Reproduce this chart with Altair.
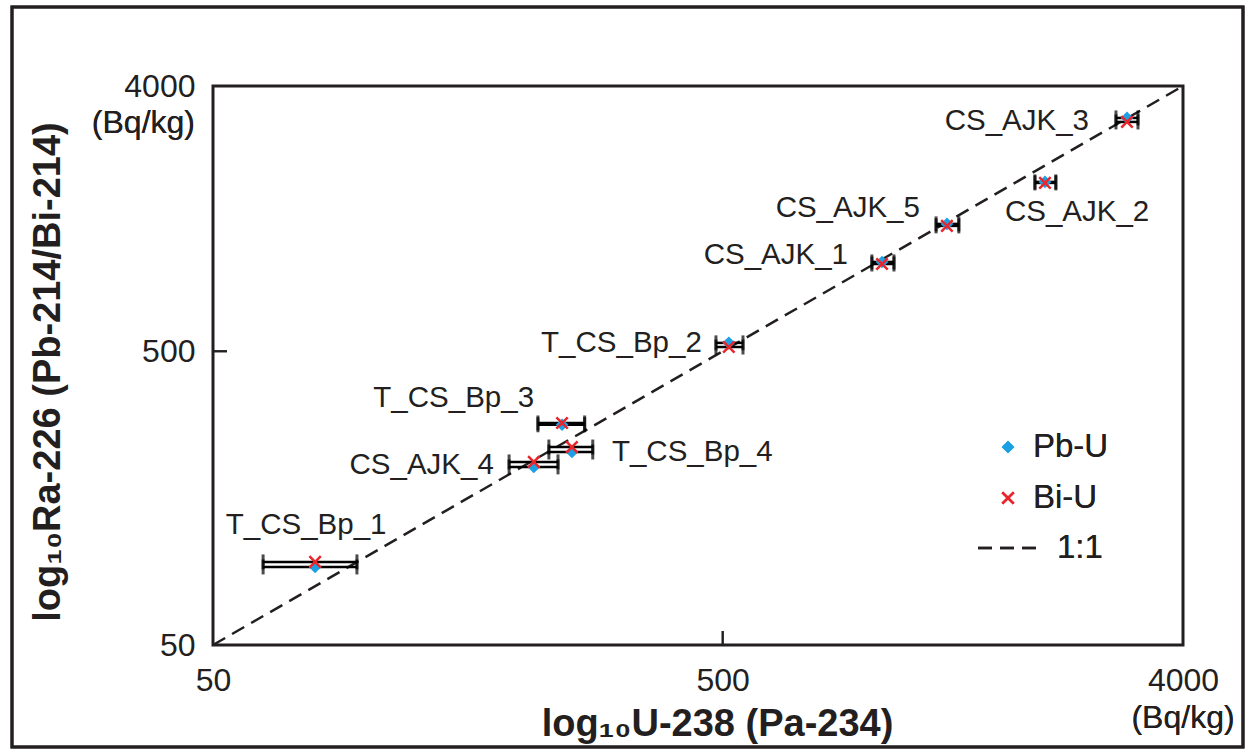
import altair as alt
import pandas as pd

# ---- sample activities (Bq/kg) ----
samples = ["T_CS_Bp_1", "CS_AJK_4", "T_CS_Bp_3", "T_CS_Bp_4", "T_CS_Bp_2",
           "CS_AJK_1", "CS_AJK_5", "CS_AJK_2", "CS_AJK_3"]
u238 = [79.3, 213, 242, 253, 514, 1027, 1377, 2144, 3106]
u238_lo = [62.7, 190.5, 217, 228, 485, 981, 1311, 2049, 2955]
u238_hi = [95.8, 237.6, 268, 278, 548, 1084, 1453, 2252, 3264]
ra_pb = [92.2, 202, 281, 227, 534, 1007, 1357, 1886, 3114]
ra_bi = [95.9, 210, 285, 236, 517, 991, 1336, 1871, 3018]

one_to_one = [50, 4000]
tick_values = [50, 500, 4000]

# ---- label placement next to each sample (align, dx, dy) ----
label_place = {
    "T_CS_Bp_1": ("center", -9, -42),
    "CS_AJK_4": ("right", -40, -2),
    "T_CS_Bp_3": ("right", -28, -27),
    "T_CS_Bp_4": ("left", 40, 0),
    "T_CS_Bp_2": ("right", -27, 0),
    "CS_AJK_1": ("right", -34, -7),
    "CS_AJK_5": ("right", -27, -16),
    "CS_AJK_2": ("left", -40, 30),
    "CS_AJK_3": ("right", -38, 3),
}

W, H = 970, 559
FONT = "Liberation Sans"
INK = "#231f20"
BLUE = "#1ca0e4"
RED = "#e8262b"

rows = []
for s, x, lo, hi, pb, bi in zip(samples, u238, u238_lo, u238_hi, ra_pb, ra_bi):
    rows.append({"sample": s, "series": "Pb-U", "x": x, "lo": lo, "hi": hi, "y": pb})
    rows.append({"sample": s, "series": "Bi-U", "x": x, "lo": lo, "hi": hi, "y": bi})
df = pd.DataFrame(rows)
pb_df = df[df.series == "Pb-U"]
bi_df = df[df.series == "Bi-U"]
line_df = pd.DataFrame({"x": one_to_one, "y": one_to_one})

xs = alt.Scale(type="log", domain=[50, 4000], nice=False)
ys = alt.Scale(type="log", domain=[50, 4000], nice=False)

x_axis = alt.Axis(values=tick_values, format="d", title="log₁₀U-238 (Pa-234)",
                  grid=False, ticks=False, tickSize=0, domain=False,
                  labelFlush=False, labelPadding=20, labelFontSize=32,
                  labelFont=FONT, labelColor=INK,
                  titleFont=FONT, titleFontSize=38, titleFontWeight="bold",
                  titleColor=INK, titleX=504, titleY=60, titleBaseline="top")
y_axis = alt.Axis(values=tick_values, format="d", title="log₁₀Ra-226 (Pb-214/Bi-214)",
                  grid=False, ticks=False, tickSize=0, domain=False,
                  labelFlush=False, labelPadding=18, labelFontSize=32,
                  labelFont=FONT, labelColor=INK,
                  titleFont=FONT, titleFontSize=38, titleFontWeight="bold",
                  titleColor=INK, titleX=-165, titleY=H / 2 + 6, titleBaseline="middle")


def X(field=None, **kw):
    return alt.X(field, scale=xs, axis=x_axis, **kw) if field else alt.X(scale=xs, axis=x_axis, **kw)


def Y(field=None, **kw):
    return alt.Y(field, scale=ys, axis=y_axis, **kw) if field else alt.Y(scale=ys, axis=y_axis, **kw)


# outer border of the figure
border = alt.Chart(line_df).mark_rect(fill=None, stroke=INK, strokeWidth=3).encode(
    x=alt.value(-201), x2=alt.value(1030), y=alt.value(-79), y2=alt.value(661)
)

# 1:1 reference line
ref_line = alt.Chart(line_df).mark_line(
    color=INK, strokeWidth=2.5, strokeDash=[14, 8]
).encode(x=X("x:Q"), y=Y("y:Q"))

# horizontal error bars with end caps
bars = alt.Chart(df).mark_rule(color="black", strokeWidth=2.5).encode(
    x=X("lo:Q"), x2="hi:Q", y=Y("y:Q"),
)
cap_lo = alt.Chart(df).mark_tick(color="black", orient="vertical", thickness=3, size=15).encode(
    x=X("lo:Q"), y=Y("y:Q")
)
cap_hi = alt.Chart(df).mark_tick(color="black", orient="vertical", thickness=3, size=15).encode(
    x=X("hi:Q"), y=Y("y:Q")
)

pb_pts = alt.Chart(pb_df).mark_point(shape="diamond", filled=True, color=BLUE,
                                     size=160, opacity=1).encode(x=X("x:Q"), y=Y("y:Q"))
X_SHAPE = "M-1,-1L1,1M-1,1L1,-1"
bi_pts = alt.Chart(bi_df).mark_point(shape=X_SHAPE, filled=False, color=RED,
                                     strokeWidth=2.5, size=130, opacity=1).encode(
    x=X("x:Q"), y=Y("y:Q"))

# sample names
labels = []
for s in samples:
    align, dx, dy = label_place[s]
    labels.append(
        alt.Chart(pb_df[pb_df["sample"] == s]).mark_text(
            align=align, baseline="middle", dx=dx, dy=dy,
            font=FONT, fontSize=29.5, color=INK
        ).encode(x=X("x:Q"), y=Y("y:Q"), text="sample:N")
    )

# inward ticks at 500 on both axes
x_tick = alt.Chart(line_df).mark_rule(color=INK, strokeWidth=2).encode(
    x=X(datum=500), y=alt.value(H), y2=alt.value(H - 14)
)
y_tick = alt.Chart(line_df).mark_rule(color=INK, strokeWidth=2).encode(
    y=Y(datum=500), x=alt.value(0), x2=alt.value(14)
)

# unit notes under the top tick labels
unit_x = alt.Chart(line_df).mark_text(
    text="(Bq/kg)", font=FONT, fontSize=32, color=INK, align="center", baseline="middle"
).encode(x=X(datum=4000), y=alt.value(H + 73))
unit_y = alt.Chart(line_df).mark_text(
    text="(Bq/kg)", font=FONT, fontSize=32, color=INK, align="right", baseline="middle"
).encode(x=alt.value(-18), y=Y(datum=4000), yOffset=alt.value(37))

# legend
LX, LY = 795, 361
leg_pb = alt.Chart(line_df).mark_point(shape="diamond", filled=True, color=BLUE,
                                       size=160, opacity=1).encode(
    x=alt.value(LX), y=alt.value(LY))
leg_bi = alt.Chart(line_df).mark_point(shape=X_SHAPE, filled=False, color=RED,
                                       strokeWidth=2.5, size=130, opacity=1).encode(
    x=alt.value(LX), y=alt.value(LY + 51))
leg_line = alt.Chart(line_df).mark_rule(color=INK, strokeWidth=2.5, strokeDash=[14, 8]).encode(
    x=alt.value(LX - 30), x2=alt.value(LX + 32), y=alt.value(LY + 101))
leg_text = []
for txt, dyy, xoff in [("Pb-U", 0, 25), ("Bi-U", 51, 25), ("1:1", 101, 49)]:
    leg_text.append(
        alt.Chart(line_df).mark_text(
            text=txt, font=FONT, fontSize=33, color=INK, align="left", baseline="middle"
        ).encode(x=alt.value(LX + xoff), y=alt.value(LY + dyy))
    )

chart = alt.layer(
    border, ref_line, bars, cap_lo, cap_hi, pb_pts, bi_pts, *labels,
    x_tick, y_tick, unit_x, unit_y, leg_pb, leg_bi, leg_line, *leg_text
).properties(
    width=W, height=H,
    autosize=alt.AutoSizeParams(type="none"),
    padding={"left": 213, "top": 86, "right": 66, "bottom": 108},
    background="white",
).configure_view(stroke=INK, strokeWidth=3)

chart.save("out.html", embed_options={"renderer": "svg", "actions": False})
